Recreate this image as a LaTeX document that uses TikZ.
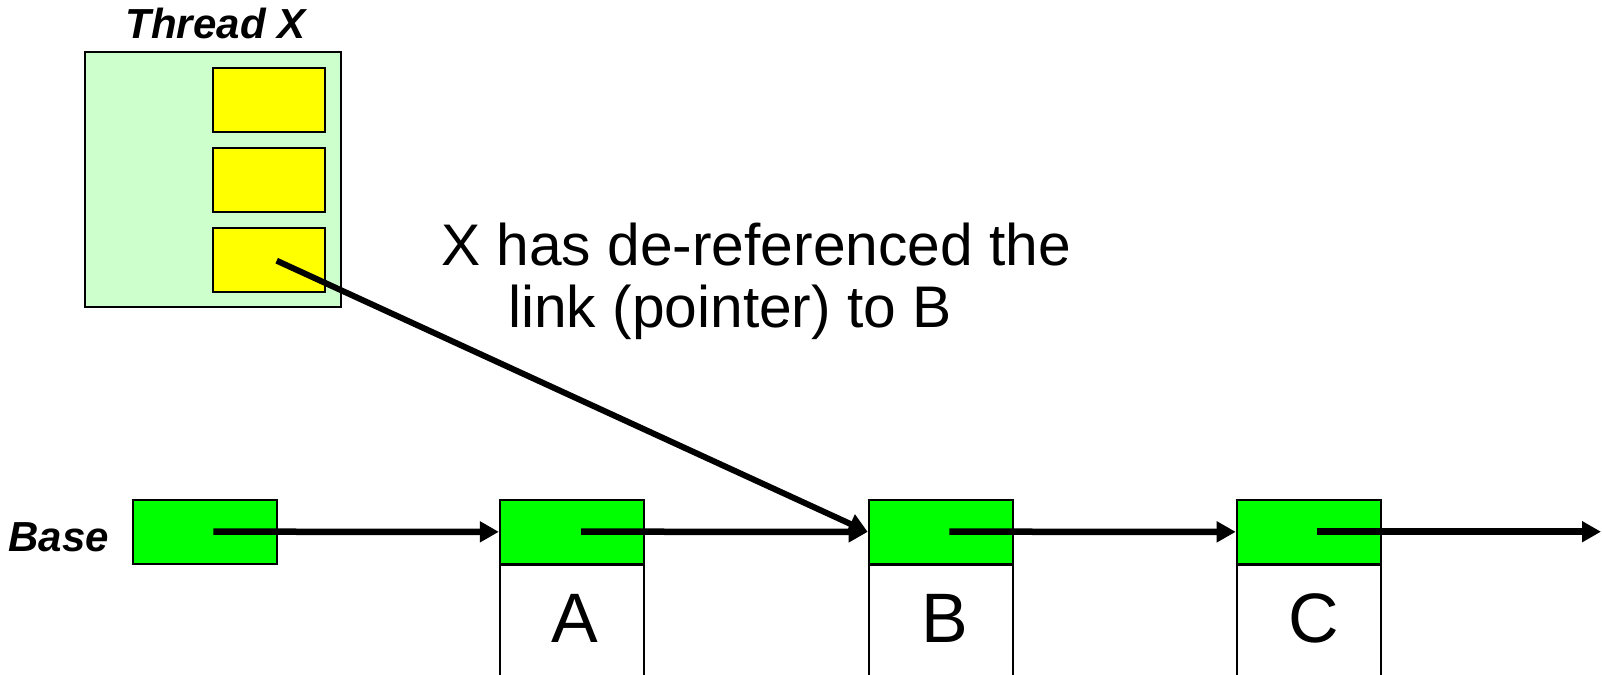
\documentclass[tikz,border=0pt]{standalone}
\usepackage{fontspec}
\setmainfont{Liberation Sans}
\usetikzlibrary{arrows.meta}
\definecolor{thrbg}{HTML}{CCFFCC}
\definecolor{ptrgreen}{HTML}{00FF00}
\definecolor{slotyellow}{HTML}{FFFF00}
\tikzset{
  threadbox/.style={draw=black, line width=2.3pt, fill=thrbg, minimum width=255.7pt, minimum height=255pt, inner sep=0pt},
  slotbox/.style={draw=black, line width=2.3pt, fill=slotyellow, minimum width=112.3pt, minimum height=64.3pt, inner sep=0pt},
  linkbox/.style={draw=black, line width=2.3pt, fill=ptrgreen, minimum width=144pt, minimum height=63.7pt, inner sep=0pt},
  bodybox/.style={draw=black, line width=2.3pt, fill=white, minimum width=144pt, minimum height=160pt, inner sep=0pt},
  linkarrow/.style={draw=black, line width=6.5pt, -{Triangle[length=19pt,width=20pt]}},
  lbl/.style={font=\fontsize{42}{46}\selectfont\bfseries\itshape, inner sep=0pt},
  letter/.style={font=\fontsize{70}{80}\selectfont, inner sep=0pt, anchor=base},
  caption/.style={font=\fontsize{58.7}{64}\selectfont, inner sep=0pt, anchor=base west}
}
\begin{document}
\begin{tikzpicture}[x=1pt,y=-1pt]
\useasboundingbox (0,0) rectangle (1602,674);
\clip (0,0) rectangle (1602,674);
% thread
\node[threadbox] (thread) at (213,179.5) {};
\node[slotbox] (s1) at (268.9,100) {};
\node[slotbox] (s2) at (268.9,180) {};
\node[slotbox] (s3) at (268.9,260) {};
\node[lbl, anchor=base] (tlabel) at (215.5,39) {Thread X};
% list
\node[bodybox, anchor=north] (bodyA) at (572,563.7) {};
\node[bodybox, anchor=north] (bodyB) at (940.85,563.7) {};
\node[bodybox, anchor=north] (bodyC) at (1308.85,563.7) {};
\node[linkbox] (base) at (204.7,531.85) {};
\node[linkbox] (la) at (572,531.85) {};
\node[linkbox] (lb) at (940.85,531.85) {};
\node[linkbox] (lc) at (1308.85,531.85) {};
\node[lbl, anchor=base east] (baselbl) at (109,551) {Base};
\node[letter] (ta) at (575,642) {A};
\node[letter] (tb) at (945,642) {B};
\node[letter] (tc) at (1313.5,642) {C};
% caption
\node[caption] (cap1) at (441,265) {X has de-referenced the};
\node[caption] (cap2) at (508,327) {link (pointer) to B};
% pointers
\coordinate (ps) at (213.3,531.7);
\coordinate (pa) at (581,531.7);
\coordinate (pb) at (949.3,531.7);
\coordinate (pc) at (1317.3,531.7);
\coordinate (px) at (276.7,260.7);
\coordinate (pend) at (1601,531.7);
\draw[linkarrow] (ps) -- (la.west);
\draw[linkarrow] (pa) -- (lb.west);
\draw[linkarrow] (pb) -- (lc.west);
\draw[linkarrow] (pc) -- (pend);
\draw[linkarrow, line width=6pt] (px) -- (lb.west);
\end{tikzpicture}
\end{document}
